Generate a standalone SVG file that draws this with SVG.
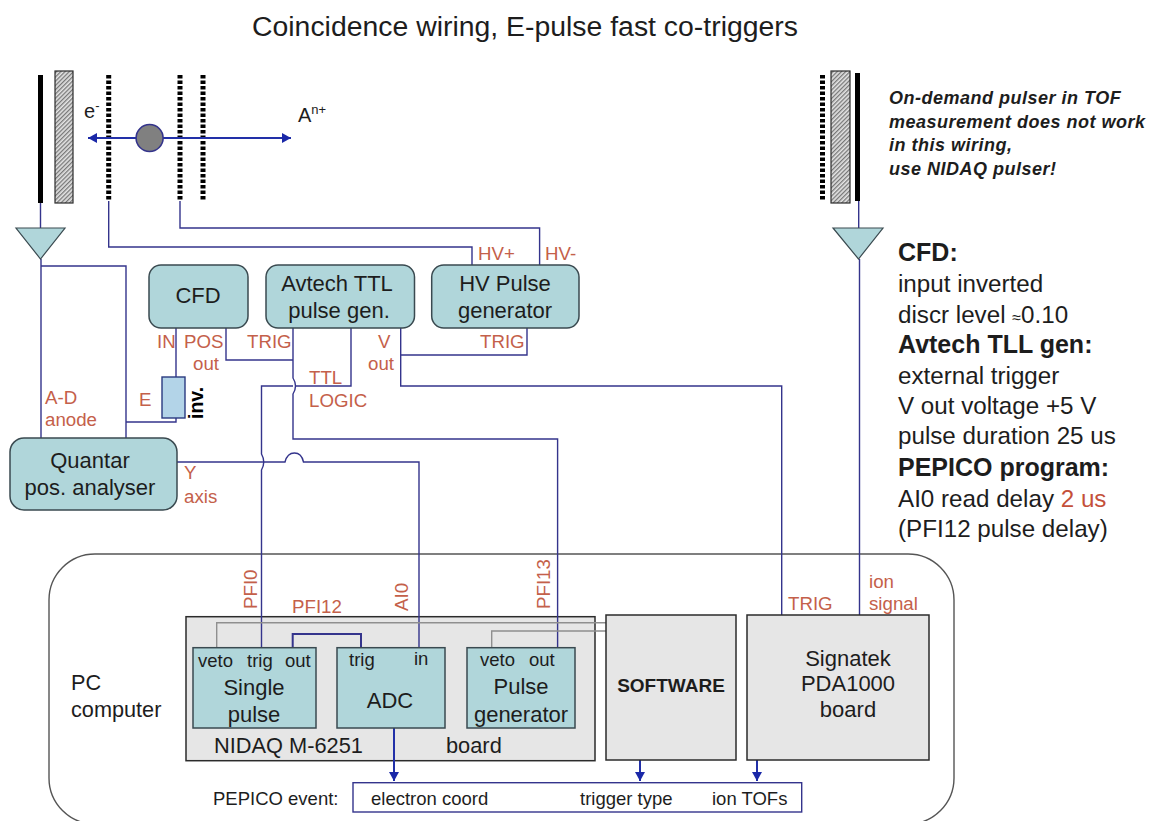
<svg xmlns="http://www.w3.org/2000/svg" width="1157" height="821" viewBox="0 0 1157 821">
<style>
text{font-family:"Liberation Sans",Arial,sans-serif;fill:#1d1d1d}
.n{font-size:22px;text-anchor:middle}
.p{font-size:18.5px}
.r{font-size:18.7px;fill:#c4604a}
.t{font-size:24.2px}
.nb{font-size:21.8px}
.b{font-weight:bold;font-size:25px}
.i{font-size:18px;font-weight:bold;font-style:italic;letter-spacing:.5px}
.box{fill:#b0d6da;stroke:#3a4a50;stroke-width:1.5}
.grey{fill:#e6e6e6;stroke:#2b2b2b;stroke-width:1.5}
.w{fill:none;stroke:#34348c;stroke-width:1.4}
.g{fill:none;stroke:#8f8f8f;stroke-width:1.4}
.a{fill:none;stroke:#2230a8;stroke-width:2;marker-end:url(#ah)}
.grid{stroke:#000;stroke-width:5;stroke-dasharray:3.5 2}
.hatch{fill:url(#h);stroke:#2b2b2b;stroke-width:1.2}
</style>
<defs>
<pattern id="h" width="3" height="3" patternUnits="userSpaceOnUse" patternTransform="rotate(-45)"><rect width="3" height="3" fill="#e4e4e4"/><rect width="3" height="1.3" fill="#777"/></pattern>
<marker id="ah" markerUnits="userSpaceOnUse" markerWidth="11" markerHeight="10" refX="9" refY="5" orient="auto-start-reverse"><path d="M0 0L9 5L0 10z" fill="#1a28a8"/></marker>
</defs>
<rect width="1157" height="821" fill="#fff"/>
<text x="252" y="36" style="font-size:28.4px">Coincidence wiring, E-pulse fast co-triggers</text>

<g id="pc-computer">
<rect x="49" y="554" width="905" height="270" rx="46" fill="#fff" stroke="#555" stroke-width="1.4"/>
<text x="71" y="690" style="font-size:21.7px">PC</text><text x="71" y="717" style="font-size:21.7px">computer</text>
</g>

<g id="detector-left">
<rect x="38" y="75" width="5" height="128" fill="#000"/>
<rect x="55" y="71" width="18" height="132" class="hatch"/>
<line x1="108.7" y1="75" x2="108.7" y2="201" class="grid"/>
<line x1="180" y1="75" x2="180" y2="201" class="grid"/>
<line x1="203" y1="75" x2="203" y2="201" class="grid"/>
<text x="84" y="118" style="font-size:20px">e<tspan dy="-8" font-size="13">-</tspan></text>
<text x="298" y="122" style="font-size:20px">A<tspan dy="-8" font-size="13">n+</tspan></text>
</g>
<g id="detector-right">
<rect x="855" y="73" width="5" height="128" fill="#000"/>
<rect x="831" y="71" width="19" height="132" class="hatch"/>
<line x1="822.5" y1="75" x2="822.5" y2="201" class="grid"/>
</g>

<g id="nidaq">
<rect x="186" y="616.7" width="409" height="144" class="grey"/>
<text x="214" y="753" class="nb">NIDAQ M-6251</text><text x="446" y="753" class="nb">board</text>
</g>

<g id="connectors">
<line x1="140" y1="138" x2="88" y2="138" class="a"/>
<line x1="160" y1="138" x2="291" y2="138" class="a"/>
<path class="w" d="M40.5 203V228M41 259V438M41 266H126V438M108.7 201V247H472V266M180 201V228H539.6V266"/>
<path class="w" d="M858.7 201V228M859.5 259V616"/>
<path class="w" d="M176 328V377M176 418V422H126"/>
<path class="w" d="M226 328V360H293"/>
<path class="w" d="M293 328V378Q298 386 293 394V439H557.6V648"/>
<path class="w" d="M351 328V386H295M293 386H261.5V454Q266 462 261.5 470V648"/>
<path class="w" d="M400.7 328V386H781.7V616M400.7 355H527V328"/>
<path class="w" d="M177 462H285C288 450 301 450 303.5 462H419V648"/>
<path class="w" d="M292.7 648V634H361V648" style="stroke-width:2"/>
<path class="g" d="M216.7 648V622.7H606M491.7 648V631H606"/>
<line x1="394" y1="728" x2="394" y2="781" class="a"/>
<line x1="640" y1="760" x2="640" y2="781" class="a"/>
<line x1="757" y1="760" x2="757" y2="781" class="a"/>
</g>

<g id="ion-source"><ellipse cx="149.6" cy="138" rx="13.5" ry="13.5" fill="#808080" stroke="#34348c" stroke-width="1.6"/></g>
<g id="amp-left"><path d="M16 228H65L40.5 259z" fill="#b0d6da" stroke="#3a4a50" stroke-width="1.2"/></g>
<g id="amp-right"><path d="M833 228H883L858.5 259z" fill="#b0d6da" stroke="#3a4a50" stroke-width="1.2"/></g>

<g id="cfd"><rect x="149" y="265" width="99" height="63" rx="12" class="box"/><text x="198" y="303" class="n">CFD</text></g>
<g id="avtech"><rect x="266" y="265" width="148.5" height="63" rx="12" class="box"/><text x="337" y="291" class="n">Avtech TTL</text><text x="339" y="318" class="n">pulse gen.</text></g>
<g id="hv-pulse"><rect x="431.7" y="265" width="147.3" height="63" rx="12" class="box"/><text x="505" y="291" class="n">HV Pulse</text><text x="505" y="318" class="n">generator</text></g>
<g id="inverter"><rect x="162" y="377" width="23" height="41" fill="#b3d4e8" stroke="#2a3a80" stroke-width="1.4"/><text transform="translate(203 419) rotate(-90)" style="font-size:19.5px;font-weight:bold;fill:#000">inv.</text></g>
<g id="quantar"><rect x="10" y="438" width="167" height="72" rx="14" class="box"/><text x="90" y="468" class="n">Quantar</text><text x="90" y="495" class="n">pos. analyser</text></g>

<g id="single-pulse"><rect x="193" y="647.7" width="123" height="80.3" class="box"/><text x="198" y="667" class="p">veto</text><text x="247" y="667" class="p">trig</text><text x="285" y="667" class="p">out</text><text x="254" y="695" class="n">Single</text><text x="254" y="722" class="n">pulse</text></g>
<g id="adc"><rect x="337" y="647.7" width="108" height="80.3" class="box"/><text x="349" y="666" class="p">trig</text><text x="414" y="665" class="p">in</text><text x="390" y="708" class="n">ADC</text></g>
<g id="pulse-gen"><rect x="467" y="647.7" width="108" height="80.3" class="box"/><text x="480" y="666" class="p">veto</text><text x="529" y="666" class="p">out</text><text x="521" y="694" class="n">Pulse</text><text x="521" y="722" class="n">generator</text></g>
<g id="software"><rect x="606" y="615" width="130" height="145" class="grey"/><text x="671" y="692" style="font-size:19px;font-weight:bold;text-anchor:middle">SOFTWARE</text></g>
<g id="signatek"><rect x="747" y="615" width="182" height="145" class="grey"/><text x="848" y="666" class="n">Signatek</text><text x="848" y="691" class="n">PDA1000</text><text x="848" y="717" class="n">board</text></g>
<g id="pepico"><rect x="353" y="782.7" width="448.7" height="29.3" fill="#fff" stroke="#34348c" stroke-width="1.4"/>
<text x="213" y="805" class="p">PEPICO event:</text><text x="371" y="805" class="p">electron coord</text><text x="580" y="805" class="p">trigger type</text><text x="712" y="805" class="p">ion TOFs</text></g>

<g id="labels">
<text x="478" y="260" class="r">HV+</text><text x="545" y="260" class="r">HV-</text>
<text x="157" y="348" class="r">IN</text><text x="184" y="348" class="r">POS</text><text x="193" y="370" class="r">out</text>
<text x="247" y="348" class="r">TRIG</text><text x="309" y="384" class="r">TTL</text><text x="309" y="407" class="r">LOGIC</text>
<text x="378" y="348" class="r">V</text><text x="368" y="370" class="r">out</text><text x="480" y="348" class="r">TRIG</text>
<text x="45" y="404" class="r">A-D</text><text x="45" y="426" class="r">anode</text><text x="139" y="406" class="r">E</text>
<text x="184" y="479" class="r">Y</text><text x="184" y="503" class="r">axis</text>
<text transform="translate(257 609) rotate(-90)" class="r">PFI0</text>
<text x="292" y="613" class="r">PFI12</text>
<text transform="translate(408 611) rotate(-90)" class="r">AI0</text>
<text transform="translate(550 609) rotate(-90)" class="r">PFI13</text>
<text x="788" y="610" class="r">TRIG</text><text x="869" y="588" class="r">ion</text><text x="869" y="610" class="r">signal</text>
</g>

<g id="notes">
<text x="889" y="104" class="i">On-demand pulser in TOF</text>
<text x="889" y="128" class="i">measurement does not work</text>
<text x="889" y="151" class="i">in this wiring,</text>
<text x="889" y="175" class="i">use NIDAQ pulser!</text>
<text x="898" y="261" class="b">CFD:</text>
<text x="898" y="292" class="t">input inverted</text>
<text x="898" y="323" class="t">discr level <tspan font-size="16">≈</tspan>0.10</text>
<text x="898" y="353" class="b">Avtech TLL gen:</text>
<text x="898" y="384" class="t">external trigger</text>
<text x="898" y="414" class="t">V out voltage +5 V</text>
<text x="898" y="444" class="t">pulse duration 25 us</text>
<text x="898" y="476" class="b">PEPICO program:</text>
<text x="898" y="507" class="t">AI0 read delay <tspan fill="#c4503a">2 us</tspan></text>
<text x="898" y="537" class="t">(PFI12 pulse delay)</text>
</g>
</svg>
